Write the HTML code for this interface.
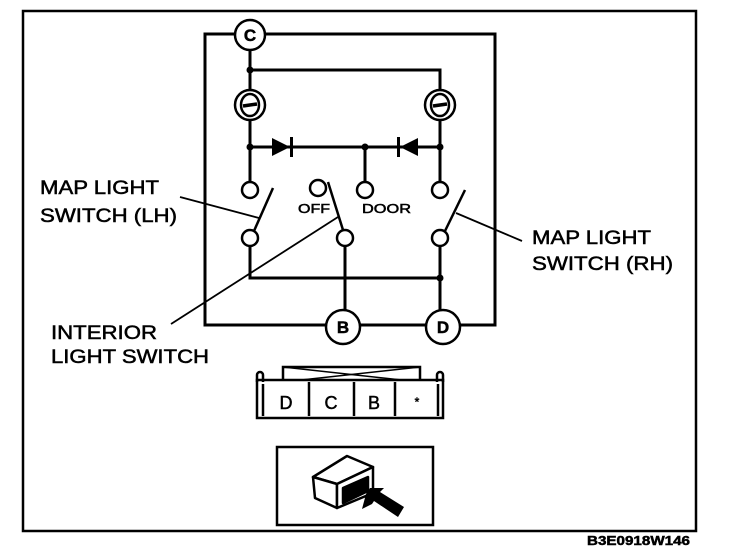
<!DOCTYPE html>
<html><head><style>
html,body{margin:0;padding:0;background:#fff;}
svg{display:block;}
text{font-family:"Liberation Sans",Arial,sans-serif;fill:#000;stroke:#000;stroke-width:0.5;}
</style></head><body>
<svg width="736" height="558" viewBox="0 0 736 558" xmlns="http://www.w3.org/2000/svg">
<rect x="23" y="11" width="673" height="520" fill="none" stroke="#000" stroke-width="2.5"/>
<g stroke="#000" stroke-width="3" fill="none">
<polyline points="236,34 205,34 205,325 326,325"/>
<polyline points="265,34 495,34 495,325 460,325"/>
<line x1="360" y1="325" x2="426" y2="325"/>
<line x1="250" y1="49" x2="250" y2="90"/>
<polyline points="250,70 440,70 440,90"/>
<line x1="250" y1="120" x2="250" y2="182"/>
<line x1="440" y1="120" x2="440" y2="182"/>
<line x1="250" y1="147" x2="440" y2="147"/>
<line x1="365" y1="147" x2="365" y2="182"/>
<polyline points="250,246 250,278 440,278"/>
<line x1="440" y1="246" x2="440" y2="310"/>
<line x1="345" y1="246" x2="345" y2="310"/>
</g>
<g fill="#000">
<circle cx="250" cy="70" r="3.5"/><circle cx="250" cy="147" r="3.5"/><circle cx="440" cy="147" r="3.5"/><circle cx="365" cy="147" r="3.5"/><circle cx="440" cy="278" r="3.5"/>
<polygon points="272,138 272,156 290,147"/><rect x="290" y="137" width="3" height="20"/>
<polygon points="418,138 418,156 400,147"/><rect x="397" y="137" width="3" height="20"/>
</g>
<g stroke="#000" stroke-width="2.5" fill="#fff">
<circle cx="250" cy="35" r="15"/><circle cx="343" cy="327" r="17"/><circle cx="443" cy="327" r="17"/>
<circle cx="250" cy="105" r="15"/><circle cx="440" cy="105" r="15"/>
<ellipse cx="250" cy="105" rx="9" ry="11"/><ellipse cx="440" cy="105" rx="9" ry="11"/>
<circle cx="250" cy="190" r="8"/><circle cx="250" cy="238" r="8"/>
<circle cx="440" cy="190" r="8"/><circle cx="440" cy="238" r="8"/>
<circle cx="318" cy="188" r="8"/><circle cx="365" cy="190" r="8"/><circle cx="345" cy="238" r="8"/>
</g>
<g stroke="#000" stroke-width="3.5"><line x1="243" y1="106" x2="257" y2="104"/><line x1="433" y1="106" x2="447" y2="104"/></g>
<g stroke="#000" stroke-width="2.5">
<line x1="273" y1="188" x2="254" y2="231"/>
<line x1="465" y1="190" x2="445" y2="231"/>
<line x1="328" y1="182" x2="343" y2="230"/>
</g>
<g stroke="#000" stroke-width="1.8">
<line x1="180" y1="197" x2="259" y2="218"/>
<line x1="456" y1="213" x2="522" y2="241"/>
<line x1="338" y1="217" x2="171" y2="324"/>
</g>
<g font-size="17" font-weight="bold" text-anchor="middle">
<text x="250" y="41">C</text><text x="343" y="333">B</text><text x="443" y="333">D</text>
</g>
<text x="298" y="213" font-size="13" textLength="32" lengthAdjust="spacingAndGlyphs">OFF</text>
<text x="362" y="213" font-size="13" textLength="49" lengthAdjust="spacingAndGlyphs">DOOR</text>
<g font-size="19" lengthAdjust="spacingAndGlyphs">
<text x="40" y="194" textLength="119" lengthAdjust="spacingAndGlyphs">MAP LIGHT</text>
<text x="40" y="222" textLength="137" lengthAdjust="spacingAndGlyphs">SWITCH (LH)</text>
<text x="532" y="244" textLength="119" lengthAdjust="spacingAndGlyphs">MAP LIGHT</text>
<text x="532" y="270" textLength="141" lengthAdjust="spacingAndGlyphs">SWITCH (RH)</text>
<text x="51" y="339" textLength="106" lengthAdjust="spacingAndGlyphs">INTERIOR</text>
<text x="51" y="363" textLength="158" lengthAdjust="spacingAndGlyphs">LIGHT SWITCH</text>
</g>
<g stroke="#000" stroke-width="2.5" fill="none">
<rect x="283" y="367" width="137" height="15"/>
<line x1="283" y1="367" x2="420" y2="382" stroke-width="1.5"/><line x1="420" y1="367" x2="283" y2="382" stroke-width="1.5"/>
<rect x="257" y="380" width="186" height="38" fill="#fff"/>
<line x1="263" y1="384" x2="263" y2="416"/><line x1="438" y1="384" x2="438" y2="416"/>
<line x1="309" y1="382" x2="309" y2="416"/><line x1="354" y1="382" x2="354" y2="416"/><line x1="395" y1="382" x2="395" y2="416"/>
<path d="M257 382 V375 a3 3 0 0 1 6 0 V382"/><path d="M437 382 V375 a3 3 0 0 1 6 0 V382"/>
</g>
<g font-size="18" text-anchor="middle"><text x="286" y="409">D</text><text x="331" y="409">C</text><text x="374" y="409">B</text></g>
<text x="417" y="406" font-size="12" text-anchor="middle">*</text>
<rect x="277" y="447" width="156" height="78" fill="none" stroke="#000" stroke-width="2.5"/>
<g stroke="#000" stroke-width="2.5" fill="#fff" stroke-linejoin="round">
<polygon points="313,477 347,456 373,467 337,484"/>
<polygon points="313,477 337,484 337,508 315,498"/>
<polygon points="337,484 373,467 373,493 337,508"/>
<polygon points="343,488 368,477 368,491 343,503" fill="#000"/>
</g>
<polygon points="362,509 366,494 370,488 384,488 380,492 404,507 398,517 374,501 372,504" fill="#000"/>
<text x="587" y="545" font-size="13" font-weight="bold" textLength="103" lengthAdjust="spacingAndGlyphs">B3E0918W146</text>
</svg>
</body></html>
